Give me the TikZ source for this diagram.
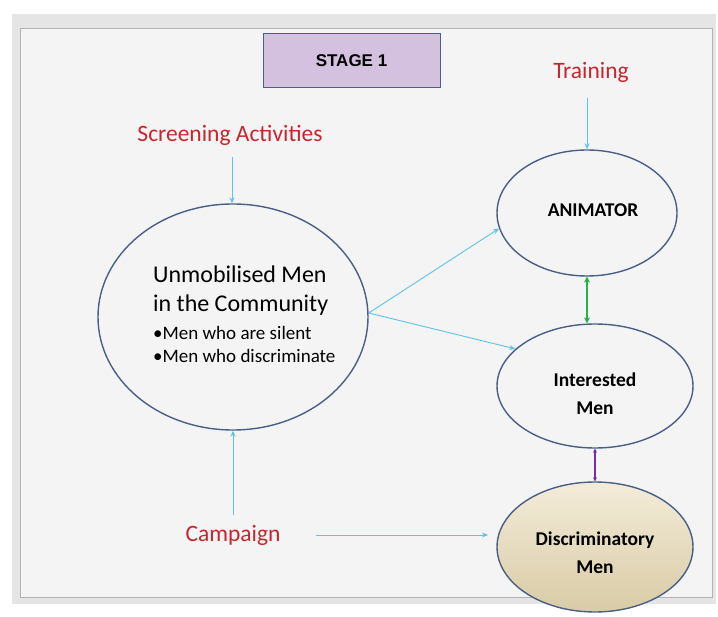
\documentclass[tikz,border=0pt]{standalone}
\usepackage{fontspec}
\setmainfont{Carlito}
\newfontfamily\stagefont{Liberation Sans}
\usetikzlibrary{shapes.geometric,arrows.meta}

\definecolor{panelgray}{HTML}{F4F4F4}
\definecolor{edgeblue}{HTML}{4A5F85}
\definecolor{linkblue}{HTML}{5EC3E6}
\definecolor{labelred}{HTML}{C8262C}
\definecolor{stagefill}{HTML}{D4C1E0}
\definecolor{beigetop}{HTML}{F3ECD9}
\definecolor{beigebot}{HTML}{D9CBA6}
\definecolor{linkgreen}{HTML}{22B14C}
\definecolor{linkpurple}{HTML}{7030A0}

\tikzset{
	group/.style={ellipse, draw=edgeblue, line width=1.4pt, inner sep=0pt},
	grouptext/.style={align=center, inner sep=0pt, font=\bfseries\fontsize{19.5}{28}\selectfont},
	source/.style={text=labelred, font=\fontsize{23.5}{28}\selectfont},
	line/.style={anchor=base west, inner sep=0pt},
	link/.style={draw=linkblue, line width=0.9pt, -{Stealth[length=6pt,width=5pt]}},
}

\begin{document}
\begin{tikzpicture}[x=1pt,y=-1pt]
		\useasboundingbox (0,0) rectangle (718,617);
		\fill[white] (0,0) rectangle (718,617);

		% panel
		\fill[black!10] (12,14) rectangle (716,604);
		\fill[panelgray] (20,28) rectangle (712,597);
		\draw[black!30, line width=0.8pt] (20,28) rectangle (712,597);

		\node[draw=edgeblue, fill=stagefill, line width=1pt, minimum width=177pt, minimum height=54pt,
			font=\stagefont\bfseries\fontsize{17}{20}\selectfont] (stage) at (351.5,61) {STAGE 1};

		\node[source] (training) at (591,72) {Training};
		\node[source] (screening) at (230,135) {Screening Activities};
		\node[source] (campaign) at (233,535) {Campaign};

		\node[group, minimum width=270pt, minimum height=226pt] (unmobilised) at (233,317) {};
		\node[line, font=\fontsize{24}{28}\selectfont] (unmob1) at (153,283) {Unmobilised Men};
		\node[line, font=\fontsize{24}{28}\selectfont] (unmob2) at (153,312) {in the Community};
		\node[line, font=\fontsize{19}{22}\selectfont] (unmob3) at (153,340) {\textbullet Men who are silent};
		\node[line, font=\fontsize{19}{22}\selectfont] (unmob4) at (153,363) {\textbullet Men who discriminate};

		\node[group, minimum width=180pt, minimum height=126pt] (animator) at (587,213) {};
		\node[grouptext] (animatortext) at (593,210) {ANIMATOR};
		\node[group, minimum width=196pt, minimum height=124pt] (interested) at (595,386) {};
		\node[grouptext] (interestedtext) at (595,394) {Interested\\Men};
		\node[group, top color=beigetop, bottom color=beigebot, minimum width=196pt,
			minimum height=130pt] (discrim) at (595,547) {};
		\node[grouptext] (discrimtext) at (595,553) {Discriminatory\\Men};

		\coordinate (trainfoot) at (587,98);
		\coordinate (screenfoot) at (232,157);
		\coordinate (campaigntop) at (233,515);
		\coordinate (campaignend) at (316,535);

		\draw[link] (trainfoot) -- (animator.north);
		\draw[link] (screenfoot) -- (unmobilised.north -| screenfoot);
		\draw[link] (campaigntop) -- (unmobilised.south -| campaigntop);
		\draw[link] (campaignend) -- (488,535);
		\draw[link] (unmobilised.east) ++(0,-4) -- (animator.190);
		\draw[link] (unmobilised.east) ++(0,-4) -- (interested.155);

		\draw[linkgreen, line width=1.8pt, {Stealth[length=6pt,width=6pt]}-{Stealth[length=6pt,width=6pt]}]
			(animator.south) -- (interested.north -| animator.south);
		\draw[linkpurple, line width=1.2pt, {Stealth[length=4pt,width=4pt]}-{Stealth[length=4pt,width=4pt]}]
			(interested.south) -- (discrim.north);

	\end{tikzpicture}
\end{document}
